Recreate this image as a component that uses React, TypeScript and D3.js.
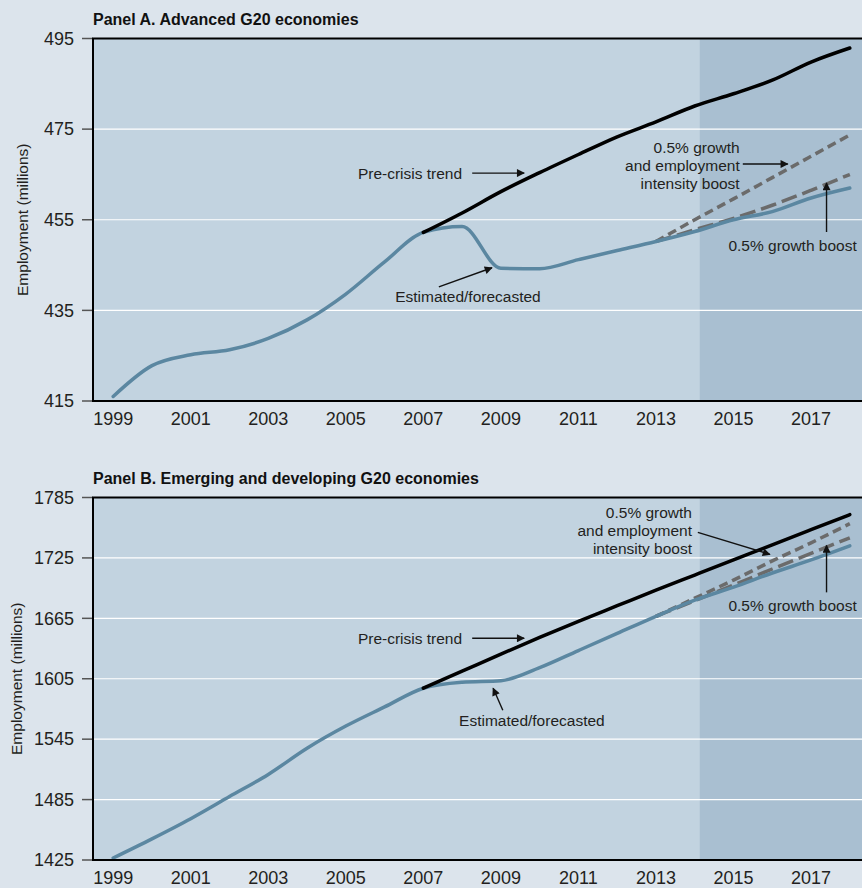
import React, { useEffect, useRef } from "react";
import * as d3 from "d3";

// Years on the x axis
const years = [1999, 2000, 2001, 2002, 2003, 2004, 2005, 2006, 2007, 2008, 2009, 2010, 2011, 2012, 2013, 2014, 2015, 2016, 2017, 2018];
const trendYears = [2007, 2008, 2009, 2010, 2011, 2012, 2013, 2014, 2015, 2016, 2017, 2018];
const boostYears = [2013, 2014, 2015, 2016, 2017, 2018];
const xTickYears = [1999, 2001, 2003, 2005, 2007, 2009, 2011, 2013, 2015, 2017];
const forecastStart = 2014.13;

// Panel A: advanced G20 (millions)
const advActual = [416, 422.8, 425.2, 426.3, 428.8, 432.9, 438.6, 445.7, 452.2, 453.5, 444.3, 444.2, 446.2, 448.2, 450.2, 452.4, 455.0, 456.8, 459.8, 462.0];
const advTrend = [452.2, 456.5, 461.2, 465.4, 469.4, 473.3, 476.6, 480.1, 482.8, 485.8, 489.8, 492.9];
const advEmpBoost = [450.2, 455.0, 459.6, 464.3, 469.0, 473.7];
const advGrowthBoost = [450.2, 452.8, 455.3, 458.2, 461.5, 465.0];
const advTicks = [415, 435, 455, 475, 495];

// Panel B: emerging and developing G20 (millions)
const emgActual = [1427, 1446, 1466, 1488, 1510, 1536, 1558, 1577, 1595.6, 1601.5, 1603, 1616, 1633, 1650, 1667, 1683, 1696, 1710, 1723, 1737];
const emgTrend = [1595.6, 1612.5, 1629.5, 1646, 1662, 1677.5, 1693, 1708, 1723, 1738, 1753, 1768];
const emgEmpBoost = [1667, 1685, 1703, 1722, 1740, 1759];
const emgGrowthBoost = [1667, 1682.5, 1698, 1714, 1729.5, 1745];
const emgTicks = [1425, 1485, 1545, 1605, 1665, 1725, 1785];

const FONT = "'Liberation Sans', Arial, sans-serif";
const INK = "#231f20";

type Note = { lines: string[]; x: number; y: number; anchor: string };
type Arrow = { x1: number; y1: number; x2: number; y2: number };

const panels = [
  {
    title: "Panel A. Advanced G20 economies",
    top: 38.5,
    bottom: 401,
    domain: [415, 495],
    ticks: advTicks,
    actual: advActual,
    trend: advTrend,
    empBoost: advEmpBoost,
    growthBoost: advGrowthBoost,
    labelX: 28,
    notes: [
      { lines: ["Pre-crisis trend"], x: 2008.0, y: 465.2, anchor: "end" },
      { lines: ["Estimated/forecasted"], x: 2008.15, y: 438.0, anchor: "middle" },
      { lines: ["0.5% growth", "and employment", "intensity boost"], x: 2015.16, y: 471.0, anchor: "end" },
      { lines: ["0.5% growth boost"], x: 2018.18, y: 449.4, anchor: "end" },
    ] as Note[],
    arrows: [
      { x1: 2008.26, y1: 465.3, x2: 2009.6, y2: 465.3 },
      { x1: 2007.4, y1: 440.2, x2: 2008.77, y2: 444.4 },
      { x1: 2015.24, y1: 467.3, x2: 2016.4, y2: 467.3 },
      { x1: 2017.4, y1: 452.3, x2: 2017.4, y2: 463.1 },
    ] as Arrow[],
  },
  {
    title: "Panel B. Emerging and developing G20 economies",
    top: 497.5,
    bottom: 860,
    domain: [1425, 1785],
    ticks: emgTicks,
    actual: emgActual,
    trend: emgTrend,
    empBoost: emgEmpBoost,
    growthBoost: emgGrowthBoost,
    labelX: 22,
    notes: [
      { lines: ["0.5% growth", "and employment", "intensity boost"], x: 2013.93, y: 1770.1, anchor: "end" },
      { lines: ["0.5% growth boost"], x: 2018.18, y: 1677.9, anchor: "end" },
      { lines: ["Pre-crisis trend"], x: 2008.0, y: 1645.2, anchor: "end" },
      { lines: ["Estimated/forecasted"], x: 2009.8, y: 1563.8, anchor: "middle" },
    ] as Note[],
    arrows: [
      { x1: 2014.08, y1: 1750.3, x2: 2015.94, y2: 1728.5 },
      { x1: 2017.4, y1: 1690.8, x2: 2017.4, y2: 1737.4 },
      { x1: 2008.26, y1: 1645.2, x2: 2009.6, y2: 1645.2 },
      { x1: 2009.05, y1: 1573.8, x2: 2008.8, y2: 1595.6 },
    ] as Arrow[],
  },
];

export default function App() {
  const ref = useRef<SVGSVGElement>(null);

  useEffect(() => {
    if (!ref.current) return;
    const width = 862;
    const height = 888;
    const left = 93;
    const right = 864;

    const svg = d3.select(ref.current);
    svg.selectAll("*").remove();
    svg.attr("width", width).attr("height", height);

    svg.append("rect").attr("width", width).attr("height", height).attr("fill", "#dce4ec");

    // arrowhead
    svg
      .append("defs")
      .append("marker")
      .attr("id", "head")
      .attr("viewBox", "0 0 10 10")
      .attr("refX", 9)
      .attr("refY", 5)
      .attr("markerWidth", 10)
      .attr("markerHeight", 8)
      .attr("markerUnits", "userSpaceOnUse")
      .attr("orient", "auto")
      .append("path")
      .attr("d", "M0,0 L10,5 L0,10 Z")
      .attr("fill", "#111");

    const x = d3.scaleLinear().domain([1999, 2018]).range([113.2, 849.8]);

    panels.forEach((p) => {
      const y = d3.scaleLinear().domain(p.domain).range([p.bottom, p.top]);
      const g = svg.append("g");

      // plot background + forecast shading
      g.append("rect")
        .attr("x", left)
        .attr("y", p.top)
        .attr("width", right - left)
        .attr("height", p.bottom - p.top)
        .attr("fill", "#c2d3e0");
      g.append("rect")
        .attr("x", x(forecastStart))
        .attr("y", p.top)
        .attr("width", right - x(forecastStart))
        .attr("height", p.bottom - p.top)
        .attr("fill", "#a9bfd1");

      // gridlines
      g.selectAll(".grid")
        .data(p.ticks.slice(1, -1))
        .join("line")
        .attr("x1", left)
        .attr("x2", right)
        .attr("y1", (d) => y(d))
        .attr("y2", (d) => y(d))
        .attr("stroke", "#fff")
        .attr("stroke-width", 1.2);

      // y ticks and labels
      g.selectAll(".tick")
        .data(p.ticks)
        .join("line")
        .attr("x1", 82)
        .attr("x2", left)
        .attr("y1", (d) => y(d))
        .attr("y2", (d) => y(d))
        .attr("stroke", "#555")
        .attr("stroke-width", 1.5);
      g.selectAll(".ylab")
        .data(p.ticks)
        .join("text")
        .attr("x", 74)
        .attr("y", (d) => y(d))
        .attr("dy", "0.35em")
        .attr("text-anchor", "end")
        .style("font-family", FONT)
        .style("font-size", "18px")
        .attr("fill", INK)
        .text((d) => d);

      // x labels
      g.selectAll(".xlab")
        .data(xTickYears)
        .join("text")
        .attr("x", (d) => x(d))
        .attr("y", p.bottom + 24)
        .attr("text-anchor", "middle")
        .style("font-family", FONT)
        .style("font-size", "18px")
        .attr("fill", INK)
        .text((d) => d);

      // axis title
      g.append("text")
        .attr("transform", `translate(${p.labelX}, ${(p.top + p.bottom) / 2}) rotate(-90)`)
        .attr("text-anchor", "middle")
        .style("font-family", FONT)
        .style("font-size", "15.5px")
        .attr("fill", INK)
        .text("Employment (millions)");

      // panel title
      g.append("text")
        .attr("x", left)
        .attr("y", p.top - 14)
        .style("font-family", FONT)
        .style("font-size", "16px")
        .style("font-weight", "bold")
        .attr("fill", "#111")
        .text(p.title);

      const line = d3
        .line<[number, number]>()
        .x((d) => x(d[0]))
        .y((d) => y(d[1]))
        .curve(d3.curveMonotoneX);

      const draw = (xs: number[], vs: number[], color: string, dash?: string) =>
        g.append("path")
          .datum(xs.map((yr, i) => [yr, vs[i]] as [number, number]))
          .attr("d", line)
          .attr("fill", "none")
          .attr("stroke", color)
          .attr("stroke-width", 3.5)
          .attr("stroke-linecap", dash ? "butt" : "round")
          .attr("stroke-dasharray", dash || null);

      draw(boostYears, p.empBoost, "#6b6b6b", "9,5");
      draw(boostYears, p.growthBoost, "#6b6b6b", "16,6");
      draw(years, p.actual, "#5b87a1");
      draw(trendYears, p.trend, "#000");

      // frame
      g.append("rect")
        .attr("x", left)
        .attr("y", p.top)
        .attr("width", right - left)
        .attr("height", p.bottom - p.top)
        .attr("fill", "none")
        .attr("stroke", "#000")
        .attr("stroke-width", 2);

      // annotations
      p.notes.forEach((n) => {
        const t = g.append("text")
          .attr("x", x(n.x))
          .attr("y", y(n.y))
          .attr("text-anchor", n.anchor)
          .style("font-family", FONT)
          .style("font-size", "15.5px")
          .attr("fill", INK);
        n.lines.forEach((s, i) => {
          t.append("tspan")
            .attr("x", x(n.x))
            .attr("dy", i === 0 ? "0.35em" : "1.17em")
            .text(s);
        });
      });
      p.arrows.forEach((a) => {
        g.append("line")
          .attr("x1", x(a.x1))
          .attr("y1", y(a.y1))
          .attr("x2", x(a.x2))
          .attr("y2", y(a.y2))
          .attr("stroke", "#111")
          .attr("stroke-width", 1.4)
          .attr("marker-end", "url(#head)");
      });
    });
  }, []);

  return (
    <div style={{ position: "absolute", left: 0, top: 0 }}>
      <svg ref={ref} style={{ display: "block" }} />
    </div>
  );
}
